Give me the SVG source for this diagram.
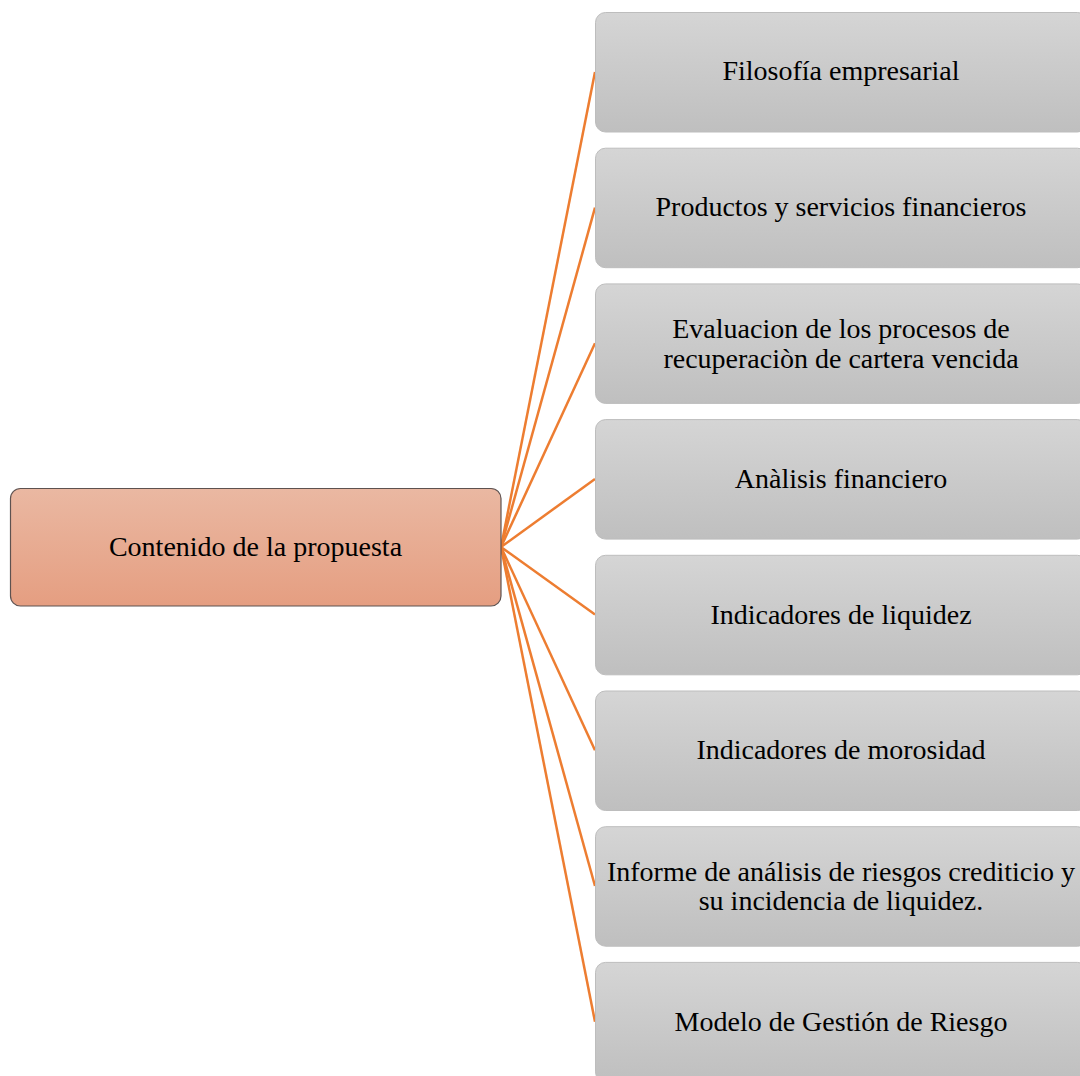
<svg xmlns="http://www.w3.org/2000/svg" width="1080" height="1076" viewBox="0 0 1080 1076">
<defs>
<linearGradient id="gOr" x1="0" y1="0" x2="0" y2="1"><stop offset="0" stop-color="#EAB8A2"/><stop offset="1" stop-color="#E59E81"/></linearGradient>
<linearGradient id="gGr" x1="0" y1="0" x2="0" y2="1"><stop offset="0" stop-color="#D5D5D5"/><stop offset="1" stop-color="#BFBFBF"/></linearGradient>
<style>
.t{font-family:"Liberation Serif","Times New Roman",serif;font-size:28px;fill:#000;text-anchor:middle}
.gb{fill:url(#gGr);stroke:#BDBDBD;stroke-width:1}
.ob{fill:url(#gOr);stroke:#5E5250;stroke-width:1.2}
.c{stroke:#ED7D31;stroke-width:2.5;fill:none}
</style>
</defs>
<rect width="1080" height="1076" fill="#FFFFFF"/>
<g id="connectors">
<line class="c" x1="501" y1="547" x2="595" y2="72"/>
<line class="c" x1="501" y1="547" x2="595" y2="207.6"/>
<line class="c" x1="501" y1="547" x2="595" y2="343.3"/>
<line class="c" x1="501" y1="547" x2="595" y2="479"/>
<line class="c" x1="501" y1="547" x2="595" y2="614.6"/>
<line class="c" x1="501" y1="547" x2="595" y2="750.3"/>
<line class="c" x1="501" y1="547" x2="595" y2="886"/>
<line class="c" x1="501" y1="547" x2="595" y2="1021.7"/>
</g>
<g id="root">
<rect class="ob" x="10.5" y="488.5" width="490.5" height="117.5" rx="10"/>
<text class="t" x="255.5" y="556">Contenido de la propuesta</text>
</g>
<g id="n1">
<rect class="gb" x="595.5" y="12.5" width="492" height="119.5" rx="10"/>
<text class="t" x="841" y="80">Filosofía empresarial</text>
</g>
<g id="n2">
<rect class="gb" x="595.5" y="148.2" width="492" height="119.5" rx="10"/>
<text class="t" x="841" y="216">Productos y servicios financieros</text>
</g>
<g id="n3">
<rect class="gb" x="595.5" y="283.9" width="492" height="119.5" rx="10"/>
<text class="t" x="841" y="338">Evaluacion de los procesos de</text>
<text class="t" x="841" y="367.5">recuperaciòn de cartera vencida</text>
</g>
<g id="n4">
<rect class="gb" x="595.5" y="419.6" width="492" height="119.5" rx="10"/>
<text class="t" x="841" y="488">Anàlisis financiero</text>
</g>
<g id="n5">
<rect class="gb" x="595.5" y="555.3" width="492" height="119.5" rx="10"/>
<text class="t" x="841" y="623.5">Indicadores de liquidez</text>
</g>
<g id="n6">
<rect class="gb" x="595.5" y="691" width="492" height="119.5" rx="10"/>
<text class="t" x="841" y="759">Indicadores de morosidad</text>
</g>
<g id="n7">
<rect class="gb" x="595.5" y="826.7" width="492" height="119.5" rx="10"/>
<text class="t" x="841" y="881">Informe de análisis de riesgos crediticio y</text>
<text class="t" x="841" y="910">su incidencia de liquidez.</text>
</g>
<g id="n8">
<rect class="gb" x="595.5" y="962.4" width="492" height="119.5" rx="10"/>
<text class="t" x="841" y="1030.5">Modelo de Gestión de Riesgo</text>
</g>
</svg>
